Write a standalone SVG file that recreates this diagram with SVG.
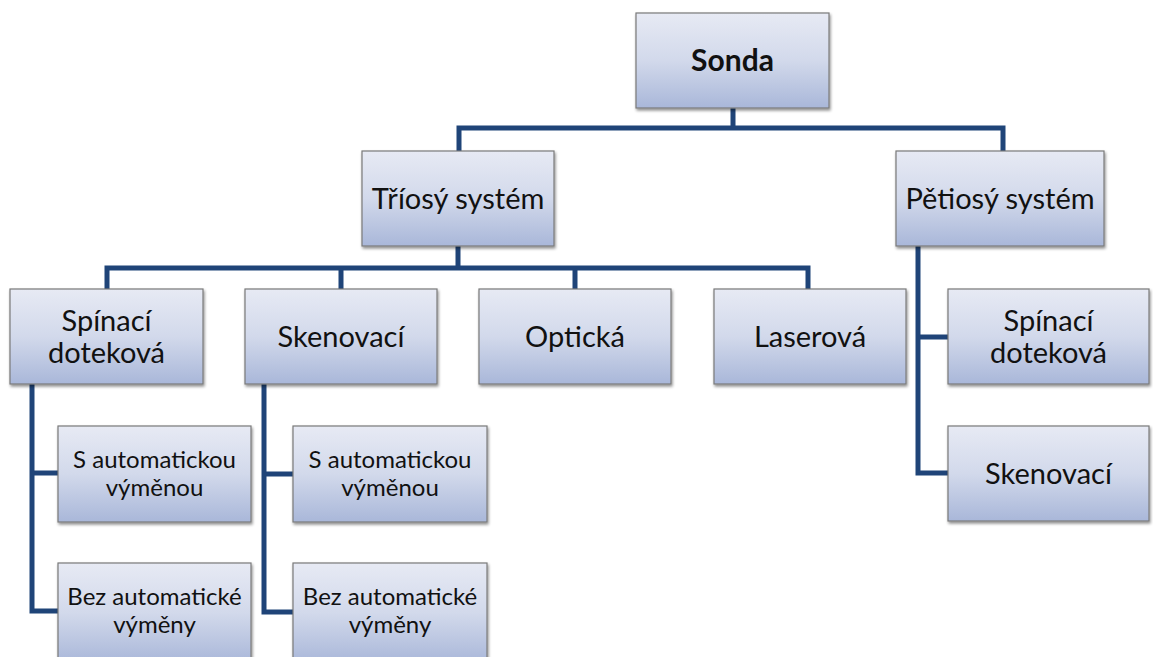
<svg xmlns="http://www.w3.org/2000/svg" width="1153" height="657" viewBox="0 0 1153 657">
<defs>
<linearGradient id="g" x1="0" y1="0" x2="0" y2="1">
<stop offset="0" stop-color="#e7eaf4"/>
<stop offset="0.5" stop-color="#d2d9eb"/>
<stop offset="1" stop-color="#a9b7d9"/>
</linearGradient>
<filter id="sh" x="-10%" y="-10%" width="125%" height="130%">
<feGaussianBlur in="SourceAlpha" stdDeviation="1.5"/>
<feOffset dx="1" dy="2" result="b"/>
<feComponentTransfer><feFuncA type="linear" slope="0.45"/></feComponentTransfer>
<feMerge><feMergeNode/><feMergeNode in="SourceGraphic"/></feMerge>
</filter>
</defs>
<style>
.box{fill:url(#g);stroke:#7a7a7a;stroke-width:1.2;filter:url(#sh)}
.t{font-family:Lato,"Open Sans","Liberation Sans",sans-serif;font-size:29px;fill:#111;text-anchor:middle}
.s{font-size:24px}
.b{font-weight:bold;font-size:30px}
.c{fill:none;stroke:#1f4478;stroke-width:5;stroke-linejoin:miter}
</style>
<rect width="1153" height="657" fill="#fff"/>
<g id="connectors">
<path class="c" d="M733,108 V128 M459,151 V128 H1003 V151"/>
<path class="c" d="M458,246 V268 M107,289 V268 H808 V289 M341,268 V289 M575,268 V289"/>
<path class="c" d="M32,384 V611 H58 M32,473 H58"/>
<path class="c" d="M264,384 V612 H293 M264,474 H293"/>
<path class="c" d="M918,246 V473 H948 M918,337 H948"/>
</g>
<g id="sonda"><rect class="box" x="636" y="13" width="193" height="95"/><text class="t b" x="732.5" y="71">Sonda</text></g>
<g id="triosy"><rect class="box" x="362" y="151" width="192" height="95"/><text class="t" x="458" y="209">Tříosý systém</text></g>
<g id="petiosy"><rect class="box" x="896" y="151" width="208" height="95"/><text class="t" x="1000" y="209">Pětiosý systém</text></g>
<g id="spinaci1"><rect class="box" x="10" y="289" width="193" height="95"/><text class="t" x="106.5" y="331">Spínací</text><text class="t" x="106.5" y="363">doteková</text></g>
<g id="skenovaci1"><rect class="box" x="245" y="289" width="192" height="95"/><text class="t" x="341" y="347">Skenovací</text></g>
<g id="opticka"><rect class="box" x="479" y="289" width="192" height="95"/><text class="t" x="575" y="347">Optická</text></g>
<g id="laserova"><rect class="box" x="714" y="289" width="192" height="95"/><text class="t" x="810" y="347">Laserová</text></g>
<g id="s-auto1"><rect class="box" x="58" y="426" width="193" height="96"/><text class="t s" x="154.5" y="468">S automatickou</text><text class="t s" x="154.5" y="496">výměnou</text></g>
<g id="bez-auto1"><rect class="box" x="58" y="563" width="193" height="100"/><text class="t s" x="154.5" y="605">Bez automatické</text><text class="t s" x="154.5" y="633">výměny</text></g>
<g id="s-auto2"><rect class="box" x="293" y="426" width="194" height="96"/><text class="t s" x="390" y="468">S automatickou</text><text class="t s" x="390" y="496">výměnou</text></g>
<g id="bez-auto2"><rect class="box" x="293" y="563" width="194" height="100"/><text class="t s" x="390" y="605">Bez automatické</text><text class="t s" x="390" y="633">výměny</text></g>
<g id="spinaci2"><rect class="box" x="948" y="289" width="201" height="95"/><text class="t" x="1048.5" y="331">Spínací</text><text class="t" x="1048.5" y="363">doteková</text></g>
<g id="skenovaci2"><rect class="box" x="948" y="426" width="201" height="95"/><text class="t" x="1048.5" y="484">Skenovací</text></g>
</svg>
